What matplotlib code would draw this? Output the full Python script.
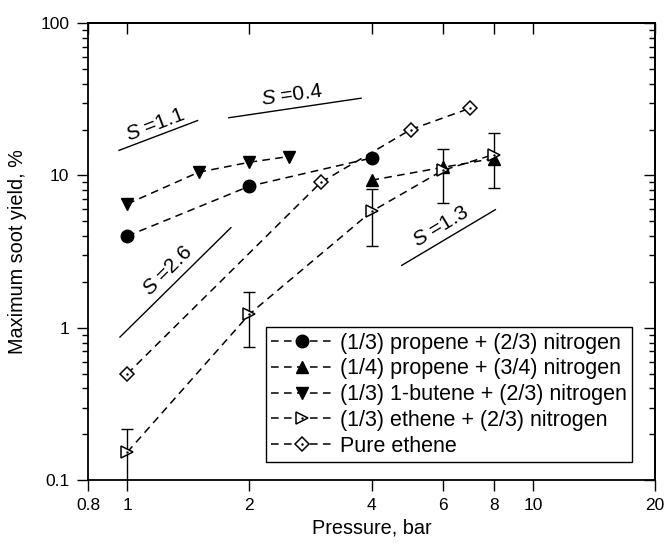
import numpy as np
import matplotlib
matplotlib.use("Agg")
import matplotlib.pyplot as plt
from matplotlib.ticker import NullLocator, LogLocator, NullFormatter, FixedLocator
from matplotlib.legend_handler import HandlerTuple

plt.rcParams.update({"font.family": ["Liberation Sans", "DejaVu Sans"], "font.size": 12,
                     "mathtext.fontset": "custom", "mathtext.it": "Liberation Sans:italic",
                     "mathtext.rm": "Liberation Sans"})

# data
p_prop13 = [1, 2, 4]
y_prop13 = [4.0, 8.5, 13.0]
p_prop14 = [4, 6, 8]
y_prop14 = [9.3, 11.3, 12.9]
p_but13 = [1, 1.5, 2, 2.5]
y_but13 = [6.5, 10.5, 12.2, 13.3]
p_eth13 = [1, 2, 4, 6, 8]
y_eth13 = [0.153, 1.23, 5.8, 10.8, 13.7]
e_eth13 = [0.063, 0.48, 2.35, 4.2, 5.4]
p_eth = [1, 3, 5, 7]
y_eth = [0.50, 9.0, 20.0, 27.6]

labels = ["(1/3) propene + (2/3) nitrogen", "(1/4) propene + (3/4) nitrogen",
          "(1/3) 1-butene + (2/3) nitrogen", "(1/3) ethene + (2/3) nitrogen", "Pure ethene"]

# slope guide lines: (x pair, y pair, label, label x, label y, rotation)
slopes = [([0.954, 1.49], [14.6, 22.9], "1.1", 1.17, 21.3, 21),
          ([1.78, 3.77], [23.9, 32.1], "0.4", 2.54, 33.5, 8),
          ([0.959, 1.80], [0.87, 4.54], "2.6", 1.26, 2.38, 45),
          ([4.75, 8.08], [2.57, 5.96], "1.3", 5.94, 4.58, 31)]

xticks = [0.8, 1, 2, 4, 6, 8, 10, 20]
xticklabels = ["0.8", "1", "2", "4", "6", "8", "10", "20"]
yticks = [0.1, 1, 10, 100]
yticklabels = ["0.1", "1", "10", "100"]

fig = plt.figure(figsize=(6.67, 5.47), dpi=100)
ax = fig.add_axes([0.132, 0.122, 0.850, 0.836])
ax.set_xscale("log"); ax.set_yscale("log")
ax.set_xlim(0.8, 20); ax.set_ylim(0.1, 100)

ls = dict(color="black", linestyle=(0, (5, 3.5)), linewidth=1.1, markersize=9)
h1, = ax.plot(p_prop13, y_prop13, marker="o", **ls)
h2, = ax.plot(p_prop14, y_prop14, marker="^", **ls)
h3, = ax.plot(p_but13, y_but13, marker="v", **ls)
ax.errorbar(p_eth13, y_eth13, yerr=e_eth13, fmt="none", ecolor="black",
            elinewidth=1.0, capsize=4, capthick=1.0)
h4, = ax.plot(p_eth13, y_eth13, marker=">", markerfacecolor="white", markeredgewidth=1.1, **ls)
h5, = ax.plot(p_eth, y_eth, marker="D", markerfacecolor="white", markeredgewidth=1.1,
              color="black", linestyle=(0, (5, 3.5)), linewidth=1.1, markersize=7.5)
d4, = ax.plot(p_eth13, y_eth13, ls="none", marker=".", markersize=1.5, color="black")
d5, = ax.plot(p_eth, y_eth, ls="none", marker=".", markersize=1.5, color="black")

for xs, ys, s, tx, ty, rot in slopes:
    ax.plot(xs, ys, color="black", linewidth=1.0)
    ax.text(tx, ty, r"$S$ =" + s, rotation=rot, ha="center", va="center",
            fontsize=15, rotation_mode="anchor")

ax.legend([h1, h2, h3, (h4, d4), (h5, d5)], labels,
          handler_map={tuple: HandlerTuple(ndivide=1)},
          loc="lower right", bbox_to_anchor=(0.96, 0.04), fancybox=False, framealpha=1,
          edgecolor="black", handlelength=2.9, handletextpad=0.3, borderpad=0.25,
          labelspacing=0.22, fontsize=15.5, borderaxespad=0)

ax.xaxis.set_major_locator(FixedLocator(xticks))
ax.set_xticklabels(xticklabels)
ax.xaxis.set_minor_locator(NullLocator())
ax.yaxis.set_major_locator(FixedLocator(yticks))
ax.set_yticklabels(yticklabels)
ax.yaxis.set_minor_locator(LogLocator(base=10, subs=np.arange(2, 10)))
ax.yaxis.set_minor_formatter(NullFormatter())
ax.tick_params(which="major", direction="out", length=8, width=1.0, labelsize=12.5, pad=5)
ax.tick_params(which="minor", direction="out", length=4.5, width=1.0)
ax.tick_params(axis="y", pad=5.5)
for sp in ax.spines.values():
    sp.set_linewidth(1.3)

top = ax.secondary_xaxis("top")
top.xaxis.set_major_locator(FixedLocator(xticks))
top.xaxis.set_minor_locator(NullLocator())
top.tick_params(direction="in", length=8, width=1.0, labeltop=False)
top.spines["top"].set_linewidth(1.3)
right = ax.secondary_yaxis("right")
right.yaxis.set_major_locator(FixedLocator(yticks))
right.yaxis.set_minor_locator(LogLocator(base=10, subs=np.arange(2, 10)))
right.yaxis.set_minor_formatter(NullFormatter())
right.tick_params(which="major", direction="in", length=8, width=1.0, labelright=False)
right.tick_params(which="minor", direction="in", length=4.5, width=1.0)
right.spines["right"].set_linewidth(1.3)

ax.set_xlabel("Pressure, bar", fontsize=14.3)
ax.set_ylabel("Maximum soot yield, %", fontsize=14.3)
ax.xaxis.set_label_coords(0.5, -0.083)
ax.yaxis.set_label_coords(-0.108, 0.5)

fig.savefig("out.png", dpi=100)
